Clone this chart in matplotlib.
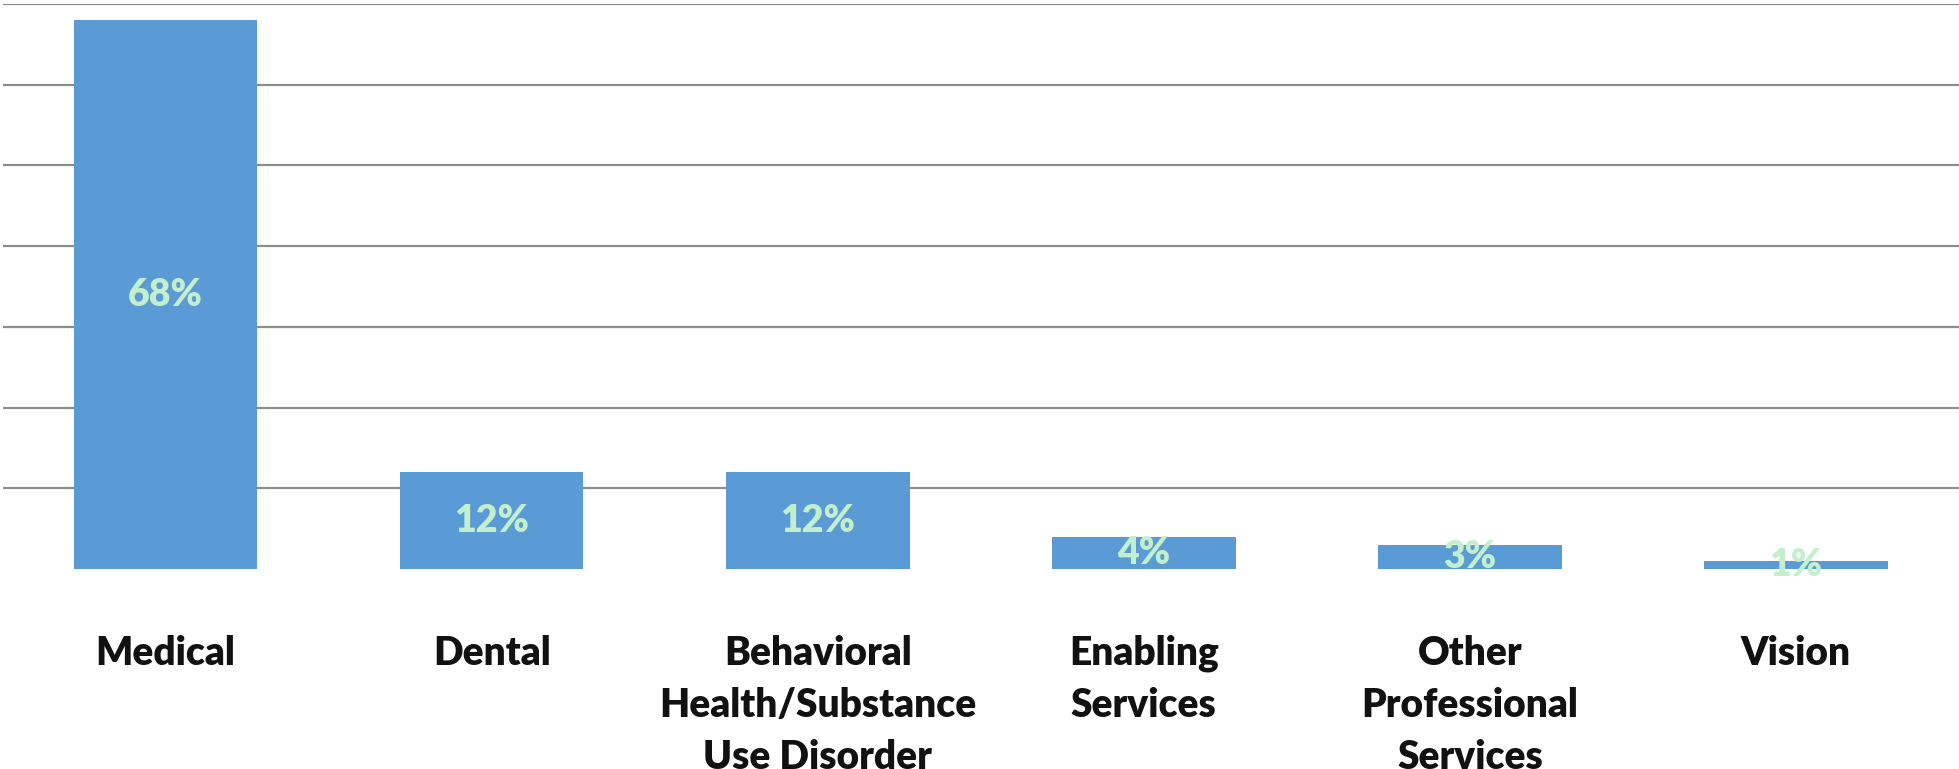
import matplotlib.pyplot as plt

categories = ['Medical', 'Dental', 'Behavioral\nHealth/Substance\nUse Disorder',
              'Enabling\nServices', 'Other\nProfessional\nServices', 'Vision']
shares = [68, 12, 12, 4, 3, 1]
value_labels = ['68%', '12%', '12%', '4%', '3%', '1%']

fig = plt.figure(figsize=(19.59, 7.69), dpi=100)
ax = fig.add_axes([0.0013, 0.2601, 0.9987, 0.7347])

x = range(len(categories))
bars = ax.bar(x, shares, width=0.563, color='#5B9BD5', zorder=3)
ax.bar_label(bars, labels=value_labels, label_type='center', color='#C3EFCF',
             fontsize=27, fontweight='heavy', family='Lato', zorder=4)

ax.set_xlim(-0.5, len(categories) - 0.5)
ax.set_ylim(0, 70)
ax.set_yticks(range(10, 71, 10))
ax.yaxis.grid(True, color='#8c8c8c', linewidth=1.6, zorder=0)
ax.tick_params(axis='y', left=False, labelleft=False)
ax.tick_params(axis='x', bottom=False, pad=44)
ax.set_xticks(list(x))
ax.set_xticklabels(categories, fontsize=28, fontweight='heavy', family='Lato',
                   color='#111111', linespacing=1.5, va='top')
for s in ax.spines.values():
    s.set_visible(False)

fig.savefig('out.png', dpi=100)
